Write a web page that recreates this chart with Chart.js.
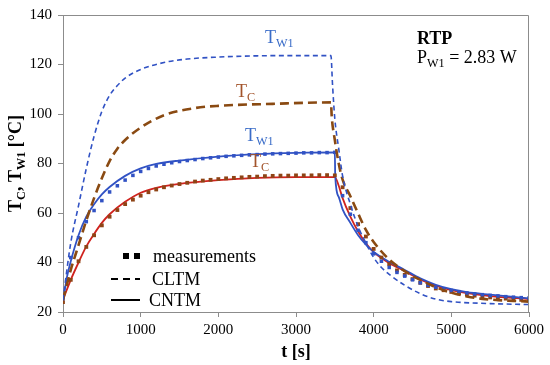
<!DOCTYPE html>
<html>
<head>
<meta charset="utf-8">
<script src="https://cdn.jsdelivr.net/npm/chart.js@4.4.1/dist/chart.umd.min.js"></script>
<style>
  html, body { margin: 0; padding: 0; background: #fff; }
  #wrap { width: 550px; height: 365px; position: relative; }
</style>
</head>
<body>
<div id="wrap"><canvas id="chart" width="550" height="365"></canvas></div>
<script>
// axis ticks
const xTicks = [0, 1000, 2000, 3000, 4000, 5000, 6000];
const yTicks = [20, 40, 60, 80, 100, 120, 140];

// CLTM, wall temperature (blue dashed)
const cltmWallTime = [0, 100, 200, 300, 400, 500, 600, 700, 800, 1000, 1300, 1600, 2000, 2500, 3000, 3450,
  3470, 3500, 3550, 3600, 3700, 3800, 3900, 4000, 4100, 4200, 4400, 4600, 4800, 5000, 5500, 6000];
const cltmWallTemp = [25, 48, 63, 78, 91, 101, 107.5, 111.5, 114.5, 118, 120.8, 122.2, 123, 123.5, 123.6, 123.6,
  112, 98, 86, 75, 63.5, 54.5, 47.8, 42, 38, 35.2, 30.8, 27.4, 25.2, 24.2, 23.4, 23];

// CLTM, chip temperature (brown dashed)
const cltmChipTime = [0, 100, 200, 300, 400, 500, 600, 700, 800, 1000, 1300, 1700, 2000, 2700, 3450,
  3460, 3500, 3550, 3600, 3700, 3800, 3900, 4000, 4200, 4400, 4600, 4800, 5000, 5200, 5400, 5600, 5800, 6000];
const cltmChipTemp = [25, 37, 47, 57, 66, 74, 81, 86, 89.5, 94.5, 99.5, 102.4, 103.3, 104.1, 104.7,
  99, 89.5, 80, 73.5, 66.8, 59.8, 53.2, 48.3, 41.2, 36.5, 33, 30, 27.8, 26.3, 25.3, 24.8, 24.5, 24.2];

// CNTM, wall temperature (blue solid)
const cntmWallTime = [0, 50, 100, 200, 300, 400, 500, 600, 800, 1000, 1200, 1500, 2000, 2500, 3000, 3500,
  3505, 3550, 3600, 3700, 3800, 3900, 4000, 4200, 4400, 4600, 4800, 5000, 5200, 5500, 6000];
const cntmWallTemp = [24, 34, 40.5, 51, 58.5, 63.5, 67.5, 70.5, 75, 78, 79.8, 81.2, 82.8, 83.8, 84.3, 84.5,
  75, 66.5, 61.5, 56, 51, 47.2, 44.3, 40.3, 37, 33.6, 31, 29.2, 28, 27, 25.5];

// CNTM, chip temperature (red solid)
const cntmChipTime = [0, 100, 200, 300, 400, 500, 600, 800, 1000, 1200, 1500, 2000, 2500, 3000, 3500,
  3550, 3600, 3700, 3800, 3900, 4000, 4200, 4400, 4600, 4800, 5000, 5200, 5500, 6000];
const cntmChipTemp = [25, 33, 40, 46.5, 51.5, 56, 59.5, 64.5, 68.2, 70.2, 71.8, 73.3, 74.2, 74.5, 74.5,
  71, 66, 58.5, 52.5, 47.8, 44.2, 39.8, 36.5, 33.2, 30.6, 28.8, 27.6, 26.4, 25.2];

// measurements, every 100 s
const measTime = [0, 100, 200, 300, 400, 500, 600, 700, 800, 900, 1000, 1100, 1200, 1300, 1400, 1500,
  1600, 1700, 1800, 1900, 2000, 2100, 2200, 2300, 2400, 2500, 2600, 2700, 2800, 2900, 3000, 3100,
  3200, 3300, 3400, 3500, 3600, 3700, 3800, 3900, 4000, 4100, 4200, 4300, 4400, 4500, 4600, 4700,
  4800, 4900, 5000, 5100, 5200, 5300, 5400, 5500, 5600, 5700, 5800, 5900, 6000];
const measWall = [25.5, 42, 50, 56.5, 61, 65, 68.5, 71, 73.3, 75.2, 76.8, 78, 79, 79.7, 80.3, 80.8,
  81.2, 81.6, 82, 82.3, 82.6, 82.9, 83.1, 83.3, 83.5, 83.6, 83.8, 83.9, 84, 84.1, 84.2, 84.3,
  84.3, 84.4, 84.4, 84.5, 67, 59.5, 53, 48, 43.5, 40.5, 38, 36, 34.5, 33, 31.8, 30.8,
  30, 29.3, 28.7, 28.2, 27.7, 27.3, 27, 26.7, 26.5, 26.2, 26, 25.8, 25.6];
const measChip = [24, 33, 40.5, 46.3, 51, 55, 58.5, 61.2, 63.6, 65.4, 67, 68.4, 69.5, 70.4, 71.1, 71.7,
  72.2, 72.7, 73.1, 73.4, 73.7, 74, 74.2, 74.4, 74.6, 74.7, 74.9, 75, 75.1, 75.1, 75.2, 75.2,
  75.2, 75.3, 75.3, 75.2, 70.4, 62, 55.5, 50.5, 45.5, 42, 39.3, 36.8, 35, 33.3, 31.8, 30.5,
  29.5, 28.8, 28.1, 27.5, 27, 26.6, 26.2, 25.9, 25.6, 25.4, 25.1, 24.9, 24.7];

const FONT = '"Liberation Serif", "Times New Roman", serif';
const BLUE = '#3152c4';
const BROWN = '#8a4a12';
const RED = '#d0231e';
const TXT_BLUE = '#3a6cc8';
const TXT_BROWN = '#a2532a';

function pts(xs, ys) {
    return xs.map((x, i) => ({ x: x, y: ys[i] }));
}

// draw text runs, sub runs are smaller and lowered
function drawRuns(ctx, runs, x, y, size, bold, color) {
    let cx = x;
    runs.forEach(r => {
        const s = r.sub ? size * 0.68 : size;
        ctx.font = (bold ? 'bold ' : '') + s + 'px ' + FONT;
        ctx.fillStyle = color;
        ctx.fillText(r.t, cx, y + (r.sub ? size * 0.22 : 0));
        cx += ctx.measureText(r.t).width;
    });
    return cx;
}

function runsWidth(ctx, runs, size, bold) {
    let w = 0;
    runs.forEach(r => {
        const s = r.sub ? size * 0.68 : size;
        ctx.font = (bold ? 'bold ' : '') + s + 'px ' + FONT;
        w += ctx.measureText(r.t).width;
    });
    return w;
}

const decorPlugin = {
    id: 'decor',
    afterDraw(chart) {
        const { ctx, chartArea: a } = chart;
        ctx.save();

        // frame top and right
        ctx.strokeStyle = '#8c8c8c';
        ctx.lineWidth = 1;
        ctx.beginPath();
        ctx.moveTo(a.left, a.top + 0.5);
        ctx.lineTo(a.right - 0.5, a.top + 0.5);
        ctx.lineTo(a.right - 0.5, a.bottom);
        ctx.stroke();

        ctx.textBaseline = 'alphabetic';
        ctx.textAlign = 'left';

        // curve labels
        drawRuns(ctx, [{ t: 'T' }, { t: 'W1', sub: true }], 265, 43, 18, false, TXT_BLUE);
        drawRuns(ctx, [{ t: 'T' }, { t: 'C', sub: true }], 236, 97, 18, false, TXT_BROWN);
        drawRuns(ctx, [{ t: 'T' }, { t: 'W1', sub: true }], 245, 141, 18, false, TXT_BLUE);
        drawRuns(ctx, [{ t: 'T' }, { t: 'C', sub: true }], 250, 167, 18, false, TXT_BROWN);

        // case info
        drawRuns(ctx, [{ t: 'RTP' }], 417, 44, 18, true, '#000');
        drawRuns(ctx, [{ t: 'P' }, { t: 'W1', sub: true }, { t: ' = 2.83 W' }], 417, 63, 18, false, '#000');

        // legend
        ctx.fillStyle = '#000';
        ctx.fillRect(123, 253, 6, 6);
        ctx.fillRect(134, 253, 6, 6);
        drawRuns(ctx, [{ t: 'measurements' }], 153, 262, 18, false, '#000');

        ctx.strokeStyle = '#000';
        ctx.lineWidth = 2;
        ctx.setLineDash([7, 5]);
        ctx.beginPath();
        ctx.moveTo(111, 279);
        ctx.lineTo(140, 279);
        ctx.stroke();
        ctx.setLineDash([]);
        drawRuns(ctx, [{ t: 'CLTM' }], 152, 285, 18, false, '#000');

        ctx.beginPath();
        ctx.moveTo(111, 300);
        ctx.lineTo(140, 300);
        ctx.stroke();
        drawRuns(ctx, [{ t: 'CNTM' }], 149, 306, 18, false, '#000');

        // axis titles
        const yTitle = [{ t: 'T' }, { t: 'C', sub: true }, { t: ', T' }, { t: 'W1', sub: true }, { t: ' [°C]' }];
        ctx.save();
        ctx.translate(21, (a.top + a.bottom) / 2);
        ctx.rotate(-Math.PI / 2);
        const w = runsWidth(ctx, yTitle, 18, true);
        drawRuns(ctx, yTitle, -w / 2, 0, 18, true, '#000');
        ctx.restore();

        const xTitle = [{ t: 't [s]' }];
        const xw = runsWidth(ctx, xTitle, 18, true);
        drawRuns(ctx, xTitle, (a.left + a.right) / 2 - xw / 2, 357, 18, true, '#000');

        ctx.restore();
    }
};

const ctx = document.getElementById('chart').getContext('2d');
const chart = new Chart(ctx, {
    type: 'line',
    data: {
        datasets: [
            {
                label: 'CLTM TW1',
                data: pts(cltmWallTime, cltmWallTemp),
                borderColor: BLUE,
                borderWidth: 1.6,
                borderDash: [5, 3.5],
                pointRadius: 0,
                cubicInterpolationMode: 'monotone'
            },
            {
                label: 'CLTM TC',
                data: pts(cltmChipTime, cltmChipTemp),
                borderColor: BROWN,
                borderWidth: 2.6,
                borderDash: [9, 5],
                pointRadius: 0,
                cubicInterpolationMode: 'monotone'
            },
            {
                label: 'meas TW1',
                data: pts(measTime, measWall),
                showLine: false,
                pointStyle: 'rect',
                pointRadius: 2.5,
                pointBackgroundColor: BLUE,
                pointBorderWidth: 0,
                borderColor: BLUE
            },
            {
                label: 'meas TC',
                data: pts(measTime, measChip),
                showLine: false,
                pointStyle: 'rect',
                pointRadius: 2.7,
                pointBackgroundColor: '#8e4416',
                pointBorderWidth: 0,
                borderColor: BROWN
            },
            {
                label: 'CNTM TW1',
                data: pts(cntmWallTime, cntmWallTemp),
                borderColor: BLUE,
                borderWidth: 1.8,
                pointRadius: 0,
                cubicInterpolationMode: 'monotone'
            },
            {
                label: 'CNTM TC',
                data: pts(cntmChipTime, cntmChipTemp),
                borderColor: RED,
                borderWidth: 1.8,
                pointRadius: 0,
                cubicInterpolationMode: 'monotone'
            }
        ]
    },
    options: {
        responsive: false,
        animation: false,
        layout: { padding: { top: 15, right: 21, left: 0, bottom: 0 } },
        plugins: {
            legend: { display: false },
            tooltip: { enabled: false }
        },
        scales: {
            x: {
                type: 'linear',
                min: xTicks[0],
                max: xTicks[xTicks.length - 1],
                afterBuildTicks: s => { s.ticks = xTicks.map(v => ({ value: v })); },
                afterFit: s => { s.height = 53; },
                grid: { drawOnChartArea: false, tickLength: 5, color: '#8c8c8c' },
                border: { color: '#8c8c8c' },
                ticks: {
                    color: '#000', padding: 4, maxRotation: 0,
                    font: { family: FONT, size: 15 },
                    callback: v => String(v)
                }
            },
            y: {
                min: yTicks[0],
                max: yTicks[yTicks.length - 1],
                afterBuildTicks: s => { s.ticks = yTicks.map(v => ({ value: v })); },
                afterFit: s => { s.width = 63; },
                grid: { drawOnChartArea: false, tickLength: 5, color: '#8c8c8c' },
                border: { color: '#8c8c8c' },
                ticks: {
                    color: '#000', padding: 6,
                    font: { family: FONT, size: 15 },
                    callback: v => String(v)
                }
            }
        }
    },
    plugins: [decorPlugin]
});
</script>
</body>
</html>
